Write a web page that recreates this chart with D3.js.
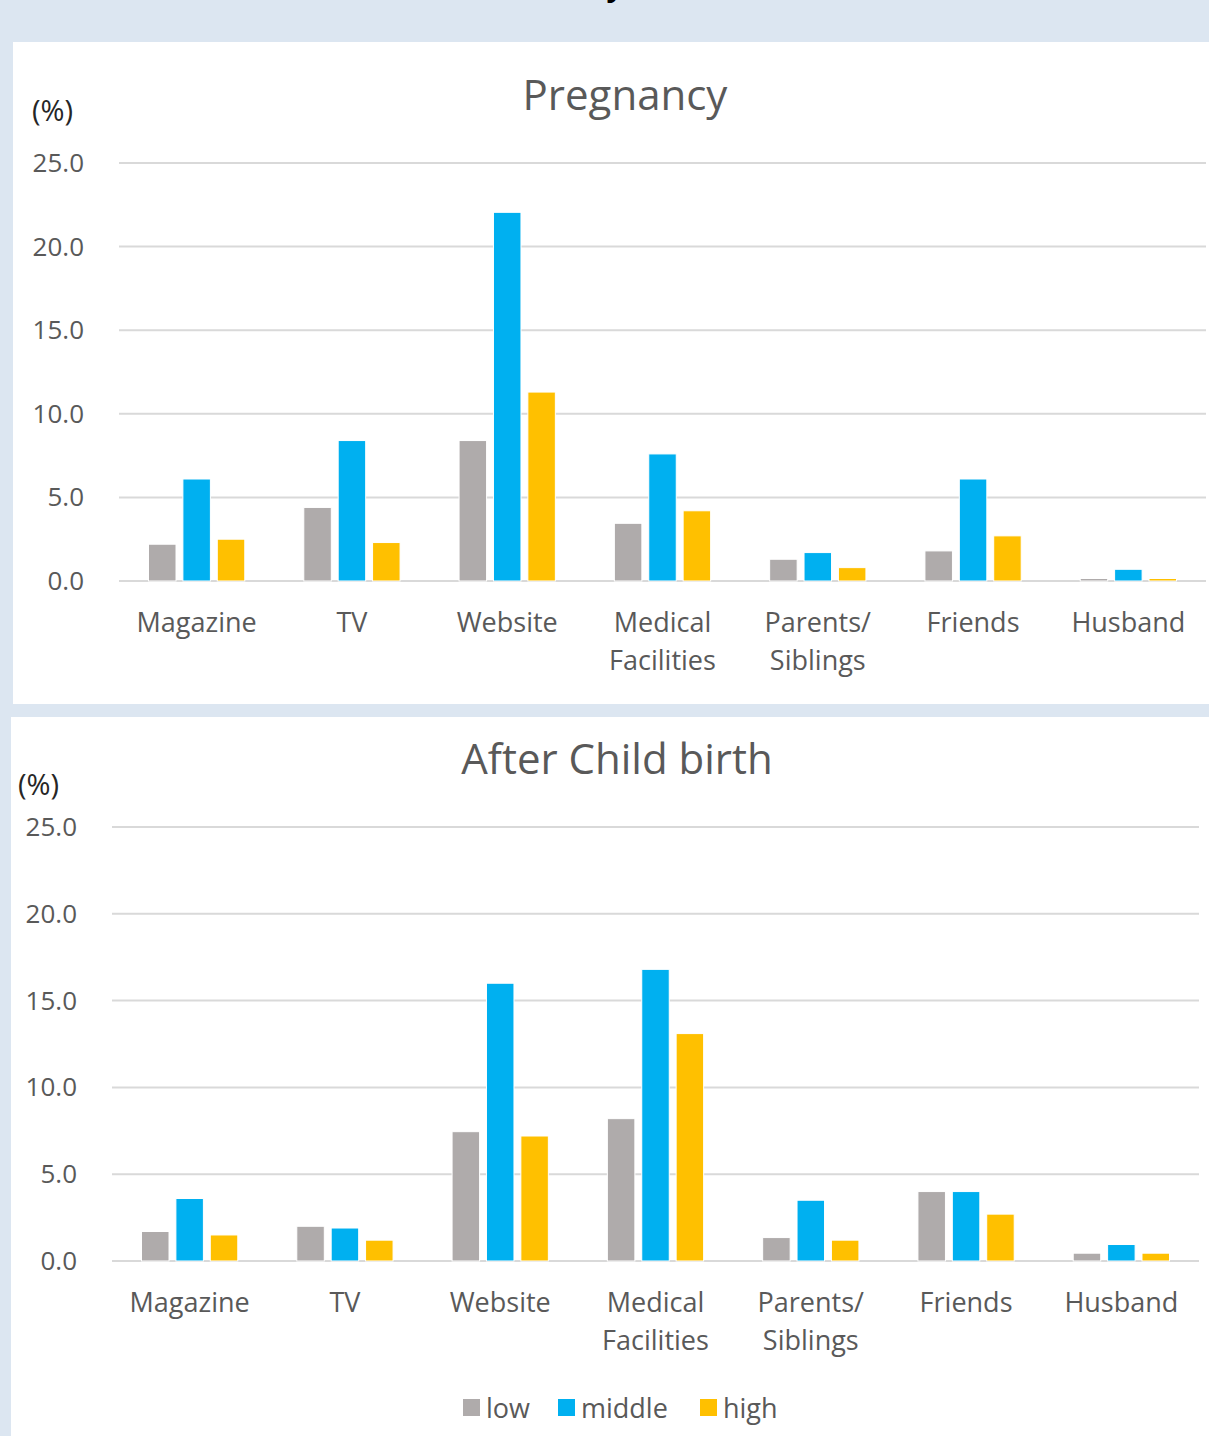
<!DOCTYPE html>
<html>
<head>
<meta charset="utf-8">
<script src="https://cdn.jsdelivr.net/npm/d3@7"></script>
<style>
  body { margin: 0; background: #dce6f1; overflow: hidden; }
  text { font-family: "Open Sans", Lato, sans-serif; }
</style>
</head>
<body>
<svg id="viz"></svg>
<script>
const width = 1209, height = 1436;

const categories = [["Magazine"], ["TV"], ["Website"], ["Medical", "Facilities"], ["Parents/", "Siblings"], ["Friends"], ["Husband"]];
const seriesNames = ["low", "middle", "high"];
const colors = ["#afabab", "#00b0f0", "#ffc000"];
const yTicks = [0, 5, 10, 15, 20, 25];

// pregnancy
const pregLow = [2.2, 4.4, 8.4, 3.45, 1.3, 1.8, 0.15];
const pregMiddle = [6.1, 8.4, 22.05, 7.6, 1.7, 6.1, 0.7];
const pregHigh = [2.5, 2.3, 11.3, 4.2, 0.8, 2.7, 0.15];

// after child birth
const afterLow = [1.7, 2.0, 7.45, 8.2, 1.35, 4.0, 0.45];
const afterMiddle = [3.6, 1.9, 16.0, 16.8, 3.5, 4.0, 0.95];
const afterHigh = [1.5, 1.2, 7.2, 13.1, 1.2, 2.7, 0.45];

const svg = d3.select("#viz")
  .attr("width", width)
  .attr("height", height);

svg.append("rect").attr("width", width).attr("height", height).attr("fill", "#dce6f1");

// heading that is cropped off at the very top
svg.append("text")
  .attr("x", 615).attr("y", -4)
  .attr("text-anchor", "middle")
  .style("font-size", "30px").style("font-weight", "bold")
  .attr("fill", "#000")
  .text("y");

function drawPanel(p) {
  const g = svg.append("g");
  g.append("rect")
    .attr("x", p.box[0]).attr("y", p.box[1])
    .attr("width", p.box[2]).attr("height", p.box[3])
    .attr("fill", "#fff");

  const y = d3.scaleLinear().domain([0, 25]).range([p.y0, p.y25]);
  const x0 = d3.scaleBand().domain(d3.range(categories.length))
    .range([p.left, p.right]).paddingInner(0.38).paddingOuter(0.19);
  const x1 = d3.scaleBand().domain(seriesNames)
    .range([0, x0.bandwidth()]).paddingInner(0.2);

  g.append("text")
    .attr("x", p.titleX).attr("y", p.titleY)
    .attr("text-anchor", "middle")
    .attr("fill", "#595959")
    .style("font-size", "42px")
    .text(p.title);

  g.append("text")
    .attr("x", p.pctX).attr("y", p.pctY)
    .attr("fill", "#262626")
    .style("font-size", "29px")
    .text("(%)");

  // grid lines
  g.selectAll(".grid").data(yTicks).enter().append("line")
    .attr("x1", p.left).attr("x2", p.right)
    .attr("y1", d => y(d)).attr("y2", d => y(d))
    .attr("stroke", "#d9d9d9").attr("stroke-width", 2);

  g.selectAll(".ytick").data(yTicks).enter().append("text")
    .attr("x", p.tickX).attr("y", d => y(d) + 9)
    .attr("text-anchor", "end")
    .attr("fill", "#595959")
    .style("font-size", "26px")
    .text(d => d3.format(".1f")(d));

  const groups = g.selectAll(".grp").data(p.values[0].map((v, i) => i)).enter()
    .append("g").attr("transform", i => `translate(${x0(i)},0)`);

  groups.selectAll("rect")
    .data(i => seriesNames.map((s, k) => ({ s: s, k: k, v: p.values[k][i] })))
    .enter().append("rect")
    .attr("x", d => x1(d.s))
    .attr("width", x1.bandwidth())
    .attr("y", d => y(d.v))
    .attr("height", d => y(0) - y(d.v))
    .attr("fill", d => colors[d.k])
    .attr("stroke", "#fff").attr("stroke-width", 1);

  g.selectAll(".xlab").data(categories).enter().append("text")
    .attr("text-anchor", "middle")
    .attr("fill", "#595959")
    .style("font-size", "27px")
    .attr("transform", (d, i) => `translate(${x0(i) + x0.bandwidth() / 2},${y(0) + 51})`)
    .selectAll("tspan").data(d => d).enter().append("tspan")
    .attr("x", 0).attr("dy", (d, i) => i === 0 ? 0 : 38)
    .text(d => d);
}

drawPanel({
  box: [13, 42, 1196, 662],
  title: "Pregnancy", titleX: 625, titleY: 110,
  pctX: 32, pctY: 121,
  left: 119, right: 1206, y0: 581, y25: 163, tickX: 84,
  values: [pregLow, pregMiddle, pregHigh]
});

drawPanel({
  box: [11, 717, 1198, 719],
  title: "After Child birth", titleX: 617, titleY: 774,
  pctX: 18, pctY: 795,
  left: 112, right: 1199, y0: 1261, y25: 827, tickX: 77,
  values: [afterLow, afterMiddle, afterHigh]
});

// legend
const legend = svg.append("g").attr("transform", "translate(463,1408)");
const lx = [0, 95, 237];
legend.selectAll("rect").data(seriesNames).enter().append("rect")
  .attr("x", (d, i) => lx[i]).attr("y", -9)
  .attr("width", 17).attr("height", 17)
  .attr("fill", (d, i) => colors[i]);
legend.selectAll("text").data(seriesNames).enter().append("text")
  .attr("x", (d, i) => lx[i] + 23).attr("y", 10)
  .attr("fill", "#595959")
  .style("font-size", "27px")
  .text(d => d);
</script>
</body>
</html>
